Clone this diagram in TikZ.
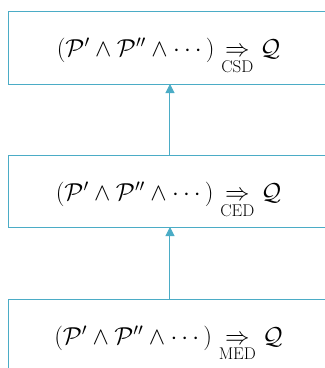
\RequirePackage{fix-cm}
\documentclass[tikz,border=0pt]{standalone}
\usepackage{amsmath}
\usetikzlibrary{arrows.meta}
\definecolor{boxblue}{RGB}{75,172,198}
\newcommand{\lbl}[1]{\mbox{\fontsize{17}{20}\selectfont #1}}
\begin{document}
\begin{tikzpicture}[x=1pt,y=-1pt,
  levelbox/.style={draw=boxblue,line width=1pt},
  formula/.style={anchor=base,inner sep=0pt,font=\fontsize{24.5}{28}\selectfont},
  uparrow/.style={draw=boxblue,fill=boxblue,line width=1pt,-{Triangle[width=9pt,length=9pt]}}]
\useasboundingbox (0,0) rectangle (325,368);
\draw[levelbox] (9,11) rectangle (331,84);
\draw[levelbox] (9,155) rectangle (331,227);
\draw[levelbox] (9,299) rectangle (331,371);
\coordinate (topb) at (170,84);
\coordinate (midt) at (170,155);
\coordinate (midb) at (170,227);
\coordinate (bott) at (170,299);
\node[formula] (f1) at (168.5,56) {$(\mathcal{P}'\wedge\mathcal{P}''\wedge\cdots)\underset{\lbl{CSD}}{\Rightarrow}\mathcal{Q}$};
\node[formula] (f2) at (168.5,200) {$(\mathcal{P}'\wedge\mathcal{P}''\wedge\cdots)\underset{\lbl{CED}}{\Rightarrow}\mathcal{Q}$};
\node[formula] (f3) at (168.5,344) {$(\mathcal{P}'\wedge\mathcal{P}''\wedge\cdots)\underset{\lbl{MED}}{\Rightarrow}\mathcal{Q}$};
\draw[uparrow] (midt) -- (topb);
\draw[uparrow] (bott) -- (midb);
\end{tikzpicture}
\end{document}
